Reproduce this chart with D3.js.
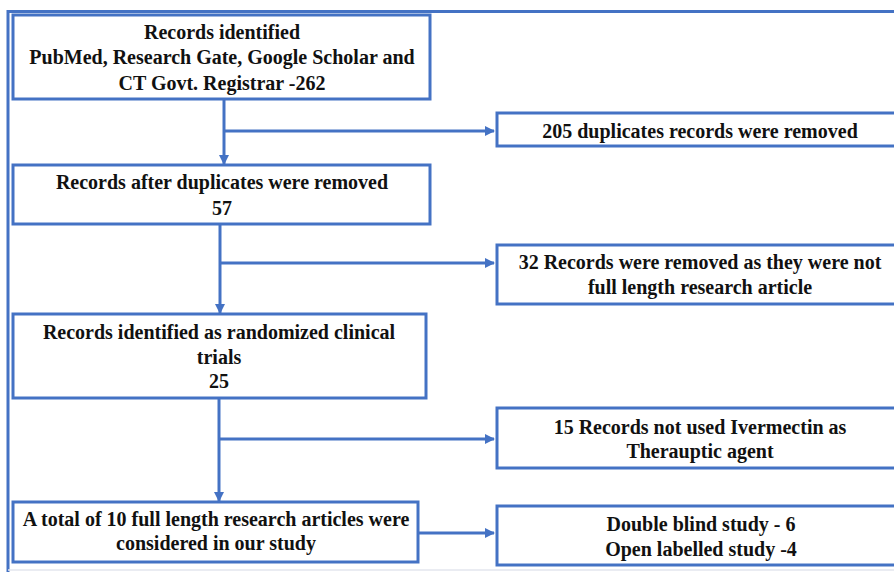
<!DOCTYPE html>
<html>
<head>
<meta charset="utf-8">
<script src="https://cdn.jsdelivr.net/npm/d3@7"></script>
<style>
    body{ margin:0; background:#fff; }
    svg text{
        font-family: "Liberation Serif", "Times New Roman", serif;
        font-weight: bold;
        font-size: 20px;
        fill: #111;
    }
    .box{ fill:#fff; stroke:#4472c4; stroke-width:3px; }
    .link{ fill:none; stroke:#4472c4; stroke-width:3px; }
</style>
</head>
<body>
<svg id="chart" width="894" height="572"></svg>
<script>
// left column: records kept at each stage
var stepLines = [
    ["Records identified", "PubMed, Research Gate, Google Scholar and", "CT Govt. Registrar -262"],
    ["Records after duplicates were removed", "57"],
    ["Records identified as randomized clinical", "trials", "25"],
    ["A total of 10 full length research articles were", "considered in our study"]
];
var stepCounts = [262, 57, 25, 10];

// right column: records removed, and the final split
var sideLines = [
    ["205 duplicates records were removed"],
    ["32 Records were removed as they were not", "full length research article"],
    ["15 Records not used Ivermectin as", "Therauptic agent"],
    ["Double blind study - 6", "Open labelled study -4"]
];
var sideCounts = [205, 32, 15, 10];

// layout (pixels)
var stepBoxes = [
    {x:13, y:15, w:417, h:84, tx:222, ty:[39, 64, 90]},
    {x:13, y:165, w:417, h:59, tx:222, ty:[189, 215]},
    {x:13, y:314, w:413, h:84, tx:219, ty:[339, 364, 388]},
    {x:13, y:502, w:405, h:60, tx:216, ty:[526, 550]}
];
var sideBoxes = [
    {x:497, y:113, w:410, h:33, tx:700, ty:[138]},
    {x:497, y:245, w:410, h:59, tx:700, ty:[269, 294]},
    {x:497, y:408, w:410, h:60, tx:700, ty:[434, 458]},
    {x:497, y:506, w:410, h:59, tx:701, ty:[531, 556]}
];
var trunkX = [224, 220, 219];
var branchY = [131, 263, 439];

var blue = "#4472c4";
var svg = d3.select("#chart");

svg.append("defs").append("marker")
    .attr("id", "arrow")
    .attr("viewBox", "0 0 10 10")
    .attr("refX", 9)
    .attr("refY", 5)
    .attr("markerUnits", "userSpaceOnUse")
    .attr("markerWidth", 10)
    .attr("markerHeight", 10)
    .attr("orient", "auto")
    .append("path")
    .attr("d", "M0,0 L10,5 L0,10 Z")
    .attr("fill", blue);

// outer frame
svg.append("path")
    .attr("class", "link")
    .attr("d", "M8,572 L8,11.5 L894,11.5");
svg.append("line")
    .attr("x1", 8).attr("x2", 894)
    .attr("y1", 570).attr("y2", 570)
    .attr("stroke", "#e3e6ee")
    .attr("stroke-width", 1.5);

var line = d3.line();

// vertical arrows between steps, with side branches
var links = [];
trunkX.forEach(function(x, i){
    var from = stepBoxes[i], to = stepBoxes[i+1];
    links.push([[x, from.y + from.h], [x, to.y - 1]]);
    links.push([[x, branchY[i]], [sideBoxes[i].x - 3, branchY[i]]]);
});
var last = stepBoxes[3];
links.push([[last.x + last.w, 533], [sideBoxes[3].x - 3, 533]]);

svg.append("g").selectAll("path")
    .data(links)
    .enter().append("path")
        .attr("class", "link")
        .attr("d", function(d){ return line(d); })
        .attr("marker-end", "url(#arrow)");

function drawBoxes(boxes, lines, counts){
    var g = svg.append("g").selectAll("g")
        .data(boxes.map(function(b, i){ return {box:b, lines:lines[i], count:counts[i]}; }))
        .enter().append("g");

    g.append("rect")
        .attr("class", "box")
        .attr("x", function(d){ return d.box.x; })
        .attr("y", function(d){ return d.box.y; })
        .attr("width", function(d){ return d.box.w; })
        .attr("height", function(d){ return d.box.h; });

    g.each(function(d){
        d3.select(this).selectAll("text")
            .data(d.lines)
            .enter().append("text")
                .attr("x", d.box.tx)
                .attr("y", function(t, j){ return d.box.ty[j]; })
                .attr("text-anchor", "middle")
                .text(function(t){ return t; });
    });
}

drawBoxes(stepBoxes, stepLines, stepCounts);
drawBoxes(sideBoxes, sideLines, sideCounts);
</script>
</body>
</html>
